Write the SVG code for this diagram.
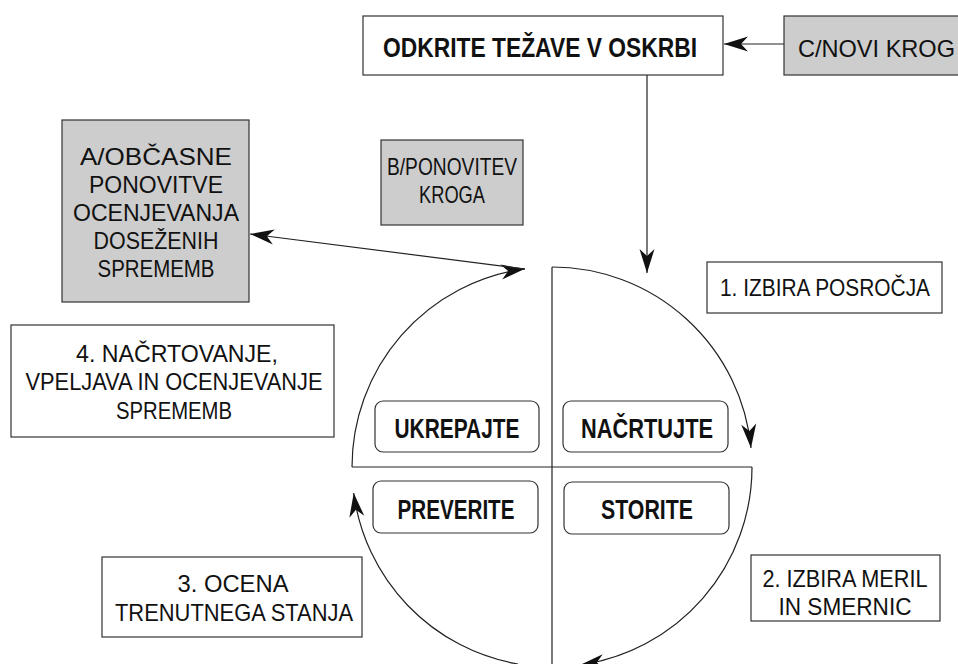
<svg xmlns="http://www.w3.org/2000/svg" width="958" height="664" viewBox="0 0 958 664">
  <style>
    .box { fill: #ffffff; stroke: #333333; stroke-width: 1.2; }
    .grey { fill: #cdcdcd; stroke: #333333; stroke-width: 1.2; }
    .pill { fill: #ffffff; stroke: #333333; stroke-width: 1.2; }
    .t { font-family: "Liberation Sans", Arial, sans-serif; font-size: 24px; fill: #111111; text-anchor: middle; }
    .b { font-family: "Liberation Sans", Arial, sans-serif; font-size: 27px; font-weight: bold; fill: #111111; text-anchor: middle; }
    .wire { fill: none; stroke: #222222; stroke-width: 1.2; }
    .arr { marker-end: url(#head); }
  </style>
  <defs>
    <marker id="head" viewBox="-25 -9 26 18" refX="0" refY="0" markerWidth="26" markerHeight="18" markerUnits="userSpaceOnUse" orient="auto">
      <path d="M0,0 L-24,-7.5 L-17,0 L-24,7.5 Z" fill="#111111"/>
    </marker>
  </defs>

  <rect width="958" height="664" fill="#ffffff"/>

  <!-- cycle: quarter arcs and dividing cross -->
  <g id="connectors">
    <line class="wire" x1="552" y1="267" x2="552" y2="664"/>
    <line class="wire" x1="352" y1="467" x2="752" y2="467"/>
    <path class="wire arr" d="M552,267 A200,200 0 0 1 751,448"/>
    <path class="wire arr" d="M752,467 A200,200 0 0 1 580,665"/>
    <path class="wire arr" d="M518,664 A200,200 0 0 1 353.7,493"/>
    <path class="wire arr" d="M352,467 A200,200 0 0 1 525,268.8"/>
    <!-- links to the outer boxes -->
    <line class="wire arr" x1="784" y1="44" x2="724" y2="44"/>
    <line class="wire arr" x1="647" y1="75" x2="647" y2="273"/>
    <line class="wire arr" x1="525" y1="269" x2="250" y2="234"/>
  </g>

  <g id="problems">
    <rect class="box" x="363" y="16" width="360" height="59"/>
    <text class="b" x="540" y="57" textLength="314" lengthAdjust="spacingAndGlyphs">ODKRITE TEŽAVE V OSKRBI</text>
  </g>

  <g id="new-cycle">
    <rect class="grey" x="784" y="16" width="190" height="59"/>
    <text class="t" x="798" y="57" style="text-anchor:start" textLength="157" lengthAdjust="spacingAndGlyphs">C/NOVI KROG</text>
  </g>

  <g id="repeat-assessment">
    <rect class="grey" x="62" y="120" width="187" height="182"/>
    <text class="t" x="156" y="165" textLength="152" lengthAdjust="spacingAndGlyphs">A/OBČASNE</text>
    <text class="t" x="156" y="193" textLength="134" lengthAdjust="spacingAndGlyphs">PONOVITVE</text>
    <text class="t" x="156" y="221" textLength="166" lengthAdjust="spacingAndGlyphs">OCENJEVANJA</text>
    <text class="t" x="156" y="249" textLength="125" lengthAdjust="spacingAndGlyphs">DOSEŽENIH</text>
    <text class="t" x="156" y="277" textLength="117" lengthAdjust="spacingAndGlyphs">SPREMEMB</text>
  </g>

  <g id="repeat-cycle">
    <rect class="grey" x="381" y="140" width="142" height="85"/>
    <text class="t" x="452" y="175" textLength="130" lengthAdjust="spacingAndGlyphs">B/PONOVITEV</text>
    <text class="t" x="452" y="203" textLength="66" lengthAdjust="spacingAndGlyphs">KROGA</text>
  </g>

  <g id="step1">
    <rect class="box" x="707" y="262" width="235" height="51"/>
    <text class="t" x="825" y="296" style="font-size:23px" textLength="210" lengthAdjust="spacingAndGlyphs">1. IZBIRA POSROČJA</text>
  </g>

  <g id="step2">
    <rect class="box" x="751" y="555" width="189" height="66"/>
    <text class="t" x="845" y="587" textLength="165" lengthAdjust="spacingAndGlyphs">2. IZBIRA MERIL</text>
    <text class="t" x="845" y="615" textLength="133" lengthAdjust="spacingAndGlyphs">IN SMERNIC</text>
  </g>

  <g id="step3">
    <rect class="box" x="102" y="557" width="260" height="80"/>
    <text class="t" x="233" y="592" textLength="111" lengthAdjust="spacingAndGlyphs">3. OCENA</text>
    <text class="t" x="234" y="621" textLength="238" lengthAdjust="spacingAndGlyphs">TRENUTNEGA STANJA</text>
  </g>

  <g id="step4">
    <rect class="box" x="11" y="325" width="323" height="112"/>
    <text class="t" x="177" y="362" textLength="202" lengthAdjust="spacingAndGlyphs">4. NAČRTOVANJE,</text>
    <text class="t" x="174" y="390" textLength="297" lengthAdjust="spacingAndGlyphs">VPELJAVA IN OCENJEVANJE</text>
    <text class="t" x="174" y="419" textLength="116" lengthAdjust="spacingAndGlyphs">SPREMEMB</text>
  </g>

  <g id="act">
    <rect class="pill" x="375" y="401" width="164" height="51" rx="8"/>
    <text class="b" x="457" y="438" textLength="125" lengthAdjust="spacingAndGlyphs">UKREPAJTE</text>
  </g>

  <g id="plan">
    <rect class="pill" x="563" y="401" width="165" height="51" rx="8"/>
    <text class="b" x="647" y="438" textLength="132" lengthAdjust="spacingAndGlyphs">NAČRTUJTE</text>
  </g>

  <g id="check">
    <rect class="pill" x="373" y="481" width="165" height="52" rx="8"/>
    <text class="b" x="456" y="519" textLength="117" lengthAdjust="spacingAndGlyphs">PREVERITE</text>
  </g>

  <g id="do">
    <rect class="pill" x="564" y="482" width="165" height="52" rx="8"/>
    <text class="b" x="647" y="519" textLength="92" lengthAdjust="spacingAndGlyphs">STORITE</text>
  </g>
</svg>
